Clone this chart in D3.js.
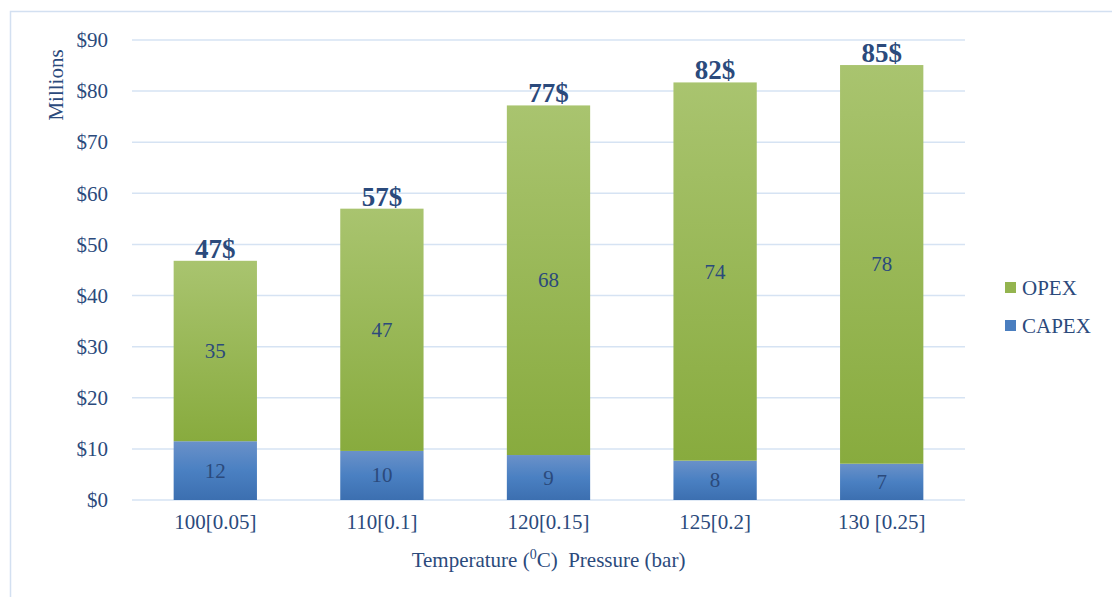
<!DOCTYPE html>
<html lang="en">
<head>
<meta charset="utf-8">
<title>CAPEX / OPEX</title>
<script src="https://d3js.org/d3.v7.min.js"></script>
<style>
  body { margin: 0; background: #fff; }
  text { font-family: "Liberation Serif", "Times New Roman", serif; fill: #2b4a7c; white-space: pre; }
</style>
</head>
<body>
<script>
// data
var categories = ["100[0.05]", "110[0.1]", "120[0.15]", "125[0.2]", "130 [0.25]"];
var capex = [11.5, 9.6, 8.8, 7.7, 7.1];
var opex = [35.3, 47.4, 68.4, 74.0, 78.0];
var yTicks = [0, 10, 20, 30, 40, 50, 60, 70, 80, 90];
var seriesNames = ["OPEX", "CAPEX"];

var w = 1112, h = 597;
var margin = {top: 40, right: 147, bottom: 97, left: 132};
var fs = "21px";

var svg = d3.select("body").append("svg")
  .attr("width", w).attr("height", h);

var defs = svg.append("defs");
var gGreen = defs.append("linearGradient").attr("id", "gGreen")
  .attr("x1", 0).attr("y1", 0).attr("x2", 0).attr("y2", 1);
gGreen.append("stop").attr("offset", "0%").attr("stop-color", "#a9c46f");
gGreen.append("stop").attr("offset", "100%").attr("stop-color", "#88ab3e");
var gBlue = defs.append("linearGradient").attr("id", "gBlue")
  .attr("x1", 0).attr("y1", 0).attr("x2", 0).attr("y2", 1);
gBlue.append("stop").attr("offset", "0%").attr("stop-color", "#6a91c9");
gBlue.append("stop").attr("offset", "50%").attr("stop-color", "#4a80c2");
gBlue.append("stop").attr("offset", "100%").attr("stop-color", "#3c6fb0");

// chart border
svg.append("rect")
  .attr("x", 10.5).attr("y", 11.5)
  .attr("width", w).attr("height", h)
  .attr("fill", "none").attr("stroke", "#d3e0f1").attr("stroke-width", 1.5);

var x = d3.scaleBand().domain(categories)
  .range([margin.left, w - margin.right]).paddingInner(0.5).paddingOuter(0.25);
var y = d3.scaleLinear().domain([0, 90])
  .range([h - margin.bottom, margin.top]);

// gridlines
svg.append("g").selectAll("line").data(yTicks).join("line")
  .attr("x1", margin.left).attr("x2", w - margin.right)
  .attr("y1", d => y(d)).attr("y2", d => y(d))
  .attr("stroke", "#d6e3f3").attr("stroke-width", 1.5);

// y axis labels
var yAxis = d3.axisLeft(y).tickValues(yTicks).tickFormat(d => "$" + d).tickSize(0).tickPadding(0);
var ya = svg.append("g").attr("transform", "translate(" + 108 + ",0)").call(yAxis);
ya.select(".domain").remove();
ya.selectAll("text").style("font-size", fs).attr("fill", "#2b4a7c")
  .style("font-family", "Liberation Serif, serif");

// x axis labels
var xAxis = d3.axisBottom(x).tickSize(0).tickPadding(0);
var xa = svg.append("g").attr("transform", "translate(0," + (h - margin.bottom + 14) + ")").call(xAxis);
xa.select(".domain").remove();
xa.selectAll("text").style("font-size", fs).attr("fill", "#2b4a7c")
  .style("font-family", "Liberation Serif, serif");

var fmt = d3.format(".0f");

// bars
var bars = svg.append("g").selectAll("g").data(categories).join("g");
bars.append("rect")
  .attr("x", d => x(d))
  .attr("width", x.bandwidth())
  .attr("y", (d, i) => y(capex[i]))
  .attr("height", (d, i) => y(0) - y(capex[i]))
  .attr("fill", "url(#gBlue)");
bars.append("rect")
  .attr("x", d => x(d))
  .attr("width", x.bandwidth())
  .attr("y", (d, i) => y(capex[i] + opex[i]))
  .attr("height", (d, i) => y(capex[i]) - y(capex[i] + opex[i]))
  .attr("fill", "url(#gGreen)");

// segment labels
bars.append("text")
  .attr("x", d => x(d) + x.bandwidth() / 2)
  .attr("y", (d, i) => y(capex[i] / 2) + 7)
  .attr("text-anchor", "middle")
  .style("font-size", fs)
  .text((d, i) => fmt(capex[i]));
bars.append("text")
  .attr("x", d => x(d) + x.bandwidth() / 2)
  .attr("y", (d, i) => y(capex[i] + opex[i] / 2) + 7)
  .attr("text-anchor", "middle")
  .style("font-size", fs)
  .text((d, i) => fmt(opex[i]));

// totals
bars.append("text")
  .attr("x", d => x(d) + x.bandwidth() / 2)
  .attr("y", (d, i) => y(capex[i] + opex[i]) - 3)
  .attr("text-anchor", "middle")
  .style("font-size", "27px").style("font-weight", "bold")
  .text((d, i) => fmt(capex[i] + opex[i]) + "$");

// y title
svg.append("text")
  .attr("transform", "translate(63,85) rotate(-90)")
  .attr("text-anchor", "middle")
  .style("font-size", fs)
  .text("Millions");

// x title
var xt = svg.append("text")
  .attr("x", (margin.left + w - margin.right) / 2)
  .attr("y", 567)
  .attr("text-anchor", "middle")
  .style("font-size", fs);
xt.append("tspan").text("Temperature (");
xt.append("tspan").attr("dy", -8).style("font-size", "14px").text("0");
xt.append("tspan").attr("dy", 8).text("C)  Pressure (bar)");

// legend
var colors = {OPEX: "#94b44f", CAPEX: "#4a7ebf"};
var leg = svg.append("g").selectAll("g").data(seriesNames).join("g")
  .attr("transform", (d, i) => "translate(1005," + (282 + i * 38) + ")");
leg.append("rect").attr("width", 11).attr("height", 11).attr("fill", d => colors[d]);
leg.append("text").attr("x", 17).attr("y", 13).style("font-size", fs).text(d => d);
</script>
</body>
</html>
